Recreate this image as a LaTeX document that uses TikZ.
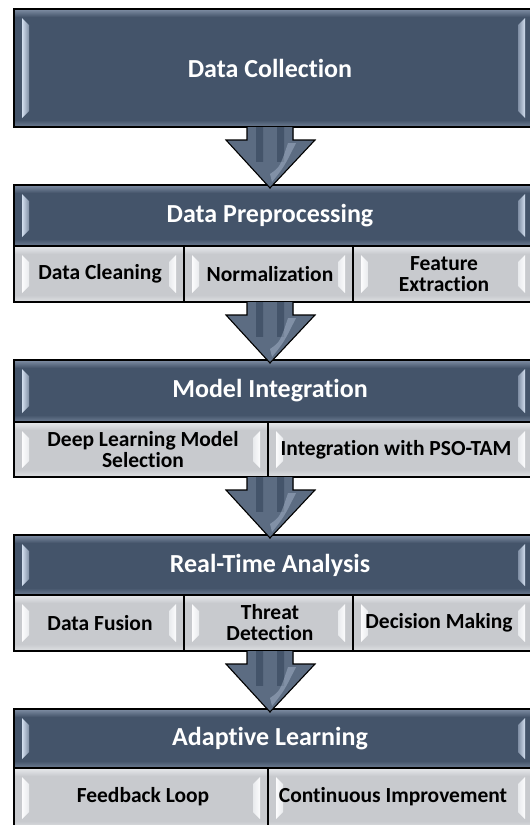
\documentclass[tikz,border=0pt]{standalone}
\usepackage{fontspec}
\setmainfont{Carlito}[Ligatures=NoCommon]
\usetikzlibrary{calc}
\definecolor{slate}{RGB}{68,84,106}
\definecolor{slatehi}{RGB}{128,143,165}
\definecolor{slatelt}{RGB}{210,222,238}
\definecolor{pane}{RGB}{200,202,206}
\definecolor{panehi}{RGB}{232,234,237}
\definecolor{panelt}{RGB}{252,252,253}
\definecolor{arrowhi}{RGB}{175,190,210}
\newcommand\bevelfx[3]{%
  \path (path picture bounding box.north west) coordinate (@nw)
        (path picture bounding box.north east) coordinate (@ne)
        (path picture bounding box.south west) coordinate (@sw)
        (path picture bounding box.south east) coordinate (@se);
  \fill[top color=#1, bottom color=#2] (@nw) rectangle ($(@ne)+(0,8)$);
  \fill[top color=#2, bottom color=#1!70!#2] ($(@sw)+(0,-7)$) rectangle (@se);
  \fill[left color=#3, right color=#1] ($(@nw)+(8,9)$) -- ($(@nw)+(15,16)$) -- ($(@sw)+(15,-16)$) -- ($(@sw)+(8,-9)$) -- cycle;
  \fill[right color=#3, left color=#1] ($(@ne)+(-8,9)$) -- ($(@ne)+(-15,16)$) -- ($(@se)+(-15,-16)$) -- ($(@se)+(-8,-9)$) -- cycle;
}
\newcommand\flowarrow[2]{%
  \coordinate (@a) at (axis |- #1.south);
  \coordinate (@b) at ($(axis |- #2.north)+(0,3)$);
  \def\arrowshape{($(@a)+(-23,0)$) -- ($(@a)+(-23,13)$) -- ($(@a)+(-44,13)$) -- (@b) -- ($(@a)+(45,13)$) -- ($(@a)+(23,13)$) -- ($(@a)+(23,0)$)}
  \fill[left color=slate!60!slatehi, middle color=slate, right color=slate!60!slatehi] \arrowshape -- cycle;
  \begin{scope}
    \clip \arrowshape -- cycle;
    \fill[left color=slate, middle color=arrowhi, right color=slate] ($(@a)+(-14,0)$) rectangle ($(@a)+(-7,34)$);
    \fill[left color=slate, middle color=arrowhi, right color=slate] ($(@a)+(7,0)$) rectangle ($(@a)+(14,34)$);
    \fill[arrowhi, fill opacity=0.45] ($(@b)+(2,-6)$) .. controls ($(@a)+(14,40)$) .. ($(@a)+(26,16)$) -- ($(@a)+(18,16)$) .. controls ($(@a)+(10,40)$) .. ($(@b)+(0,-14)$) -- cycle;
  \end{scope}
  \draw[line width=1.1pt, line join=miter] \arrowshape;
}
\tikzset{
  stagebox/.style={rectangle, draw=none, inner sep=0pt, outer sep=0pt, anchor=north west},
  hdrbox/.style={rectangle, anchor=north west, inner sep=0pt, outer sep=0pt,
    fill=slate, draw=black, line width=1.1pt, path picture={\bevelfx{slatehi}{slate}{slatelt}}},
  subbox/.style={rectangle, anchor=north west, inner sep=0pt, outer sep=0pt,
    fill=pane, draw=black, line width=1.1pt, path picture={\bevelfx{panehi}{pane}{panelt}}},
  hdrtext/.style={text=white, inner sep=0pt, font=\fontsize{26}{28}\selectfont\bfseries},
  subtext/.style={text=black, inner sep=0pt, align=center, font=\fontsize{21.5}{21}\selectfont\bfseries},
}
\begin{document}
\begin{tikzpicture}[x=1pt,y=-1pt]
\useasboundingbox (0,0) rectangle (530,825);
\clip (0,0) rectangle (530,825);
\fill[white] (0,0) rectangle (530,825);
\coordinate (axis) at (270,0);
% stage outlines (for connectors)
\node[stagebox, minimum width=519pt, minimum height=118pt] (s1) at (14,9) {};
\node[stagebox, minimum width=519pt, minimum height=117pt] (s2) at (14,185) {};
\node[stagebox, minimum width=519pt, minimum height=117pt] (s3) at (14,360) {};
\node[stagebox, minimum width=519pt, minimum height=116pt] (s4) at (14,535) {};
\node[stagebox, minimum width=519pt, minimum height=119pt] (s5) at (14,709) {};
% stage 1
\node[hdrbox, minimum width=519pt, minimum height=118pt] (h1) at (14,9) {};
\node[hdrtext] (t1) at (270,68) {Data Collection};
% stage 2
\node[hdrbox, minimum width=519pt, minimum height=61pt] (h2) at (14,185) {};
\node[hdrtext] (t2) at (270,215.5) {Data Preprocessing};
\node[subbox, minimum width=170pt, minimum height=56pt] (b21) at (14,246) {};
\node[subbox, minimum width=169pt, minimum height=56pt] (b22) at (184,246) {};
\node[subbox, minimum width=180pt, minimum height=56pt] (b23) at (353,246) {};
\node[subtext] (u21) at (100,274) {Data Cleaning};
\node[subtext] (u22) at (270,274) {Normalization};
\node[subtext] (u23) at (444,274) {Feature\\Extraction};
% stage 3
\node[hdrbox, minimum width=519pt, minimum height=62pt] (h3) at (14,360) {};
\node[hdrtext] (t3) at (270,391) {Model Integration};
\node[subbox, minimum width=254pt, minimum height=55pt] (b31) at (14,422) {};
\node[subbox, minimum width=265pt, minimum height=55pt] (b32) at (268,422) {};
\node[subtext] (u31) at (143,449.5) {Deep Learning Model\\Selection};
\node[subtext] (u32) at (396,449.5) {Integration with PSO-TAM};
% stage 4
\node[hdrbox, minimum width=519pt, minimum height=60pt] (h4) at (14,535) {};
\node[hdrtext] (t4) at (270,565) {Real-Time Analysis};
\node[subbox, minimum width=170pt, minimum height=56pt] (b41) at (14,595) {};
\node[subbox, minimum width=169pt, minimum height=56pt] (b42) at (184,595) {};
\node[subbox, minimum width=180pt, minimum height=56pt] (b43) at (353,595) {};
\node[subtext] (u41) at (100,623) {Data Fusion};
\node[subtext] (u42) at (270,623) {Threat\\Detection};
\node[subtext] (u43) at (439,623) {Decision Making};
% stage 5
\node[hdrbox, minimum width=519pt, minimum height=59pt] (h5) at (14,709) {};
\node[hdrtext] (t5) at (270,738.5) {Adaptive Learning};
\node[subbox, minimum width=254pt, minimum height=60pt] (b51) at (14,768) {};
\node[subbox, minimum width=265pt, minimum height=60pt] (b52) at (268,768) {};
\node[subtext] (u51) at (143,797) {Feedback Loop};
\node[subtext] (u52) at (393,797) {Continuous Improvement};
% connectors
\flowarrow{s1}{s2}
\flowarrow{s2}{s3}
\flowarrow{s3}{s4}
\flowarrow{s4}{s5}
\end{tikzpicture}
\end{document}
